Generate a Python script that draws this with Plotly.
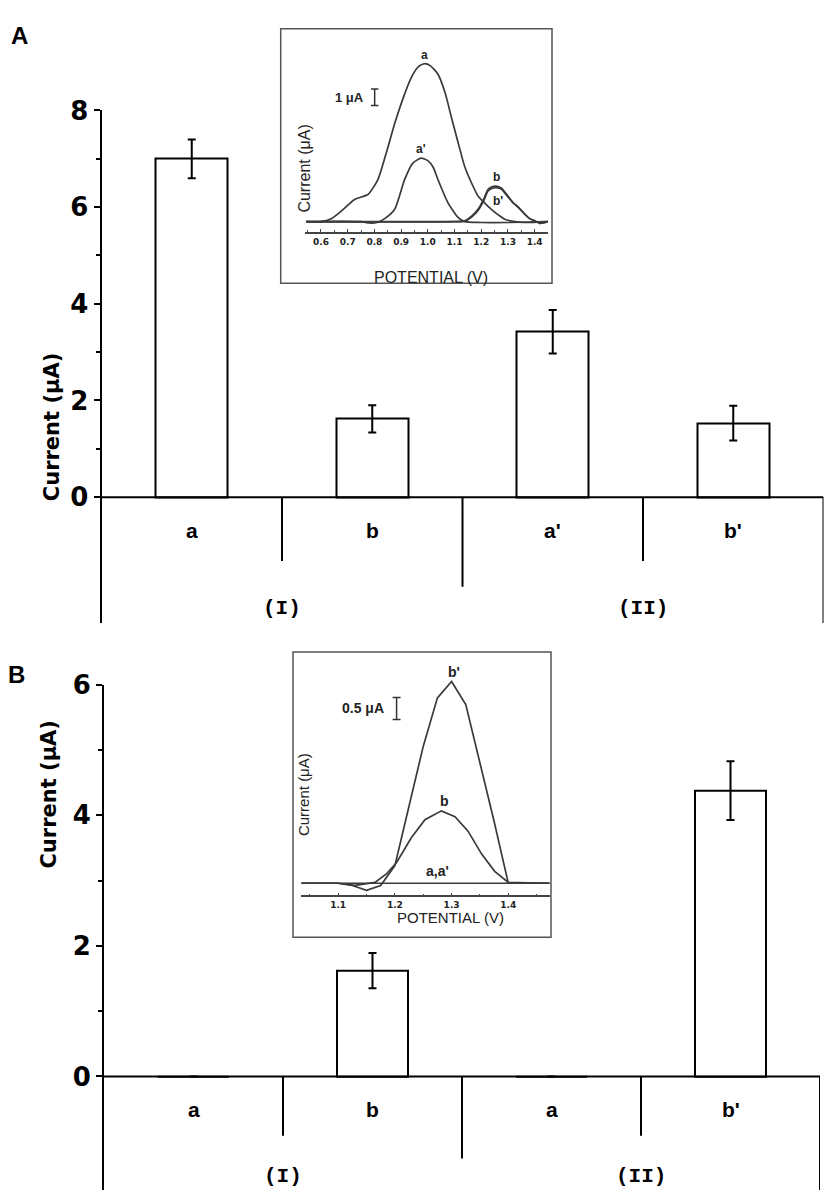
import plotly.graph_objects as go

W, H = 829, 1192

# ---------------- data ----------------
categories_A = ["a", "b", "a'", "b'"]
categories_B = ["a", "b", "a", "b'"]
groups = ["(I)", "(II)"]
current_A = [7.0, 1.62, 3.42, 1.53]
error_A = [0.40, 0.28, 0.45, 0.36]
current_B = [0, 1.62, 0, 4.38]
error_B = [0, 0.27, 0, 0.45]
yticks_A = [0, 2, 4, 6, 8]
yticks_B = [0, 2, 4, 6]

# inset A (DPV curves)
insA_a_x = [0.545, 0.60, 0.64, 0.68, 0.726, 0.776, 0.813, 0.845, 0.876, 0.91, 0.938, 0.965, 0.988, 1.01,
            1.038, 1.065, 1.088, 1.115, 1.138, 1.165, 1.188, 1.215, 1.238, 1.265, 1.288, 1.32, 1.36, 1.45]
insA_a_y = [0, 0, 0.2, 0.7, 1.35, 1.65, 2.55, 4.2, 5.95, 7.6, 8.74, 9.4, 9.58, 9.45,
            8.94, 7.8, 6.35, 4.7, 3.35, 2.3, 1.56, 1.1, 0.75, 0.4, 0.15, 0.02, -0.05, 0]
insA_a2_x = [0.545, 0.75, 0.78, 0.81, 0.84, 0.876, 0.913, 0.944, 0.975, 1.0, 1.02, 1.038, 1.075, 1.113,
             1.138, 1.2, 1.3, 1.45]
insA_a2_y = [0, 0, -0.08, -0.05, 0.2, 0.75, 2.55, 3.55, 3.85, 3.7, 3.3, 2.55, 1.16, 0.26,
             0, -0.05, -0.05, 0]
insA_b_x = [0.545, 1.10, 1.138, 1.165, 1.188, 1.21, 1.225, 1.24, 1.256, 1.275, 1.30, 1.32, 1.338, 1.36,
            1.38, 1.40, 1.42, 1.45]
insA_b_y = [0, 0, 0.05, 0.35, 0.75, 1.4, 1.95, 2.12, 2.16, 2.05, 1.56, 1.15, 0.9, 0.5,
            0.2, 0.05, -0.1, 0]
insA_b2_x = [0.545, 1.10, 1.138, 1.165, 1.188, 1.21, 1.225, 1.24, 1.256, 1.275, 1.30, 1.32, 1.338, 1.36,
             1.38, 1.40, 1.42, 1.45]
insA_b2_y = [0, 0, 0.03, 0.3, 0.68, 1.3, 1.85, 2.02, 2.06, 1.98, 1.5, 1.12, 0.88, 0.5,
             0.2, 0.05, -0.1, 0]
insA_ticks = [0.6, 0.7, 0.8, 0.9, 1.0, 1.1, 1.2, 1.3, 1.4]

# inset B
insB_b2_x = [1.035, 1.10, 1.125, 1.15, 1.175, 1.20, 1.225, 1.25, 1.275, 1.30, 1.325, 1.35, 1.375, 1.40, 1.473]
insB_b2_y = [0, 0, -0.05, -0.16, -0.05, 0.4, 1.75, 3.1, 4.2, 4.57, 4.05, 2.75, 1.4, 0, 0]
insB_b_x = [1.035, 1.10, 1.13, 1.165, 1.185, 1.203, 1.229, 1.253, 1.282, 1.306, 1.329, 1.353, 1.376, 1.40, 1.473]
insB_b_y = [0, 0, -0.05, 0.02, 0.21, 0.47, 1.03, 1.44, 1.64, 1.51, 1.18, 0.66, 0.27, 0.02, 0]
insB_a_x = [1.035, 1.473]
insB_a_y = [0, 0]
insB_ticks = [1.1, 1.2, 1.3, 1.4]


# ---------------- helpers (pixel -> paper) ----------------
def PX(x):
    return x / W


def PY(y):
    return 1 - y / H


# main panel geometry (pixels)
A_x0, A_x1 = 101.5, 823.5
A_zero, A_top, A_bot = 488.3, 96.7, 616.0
A_scale = (A_zero - A_top) / 8.0
A_ymin = -(A_bot - A_zero) / A_scale

B_x0, B_x1 = 104.0, 820.0
B_zero, B_top, B_bot = 1075.0, 678.3, 1190.0
B_scale = (B_zero - B_top) / 6.0
B_ymin = -(B_bot - B_zero) / B_scale


def yA(pix):
    return (A_zero - pix) / A_scale


def yB(pix):
    return (B_zero - pix) / B_scale


fig = go.Figure()
pos = list(range(len(categories_A)))

fig.add_trace(go.Bar(x=pos, y=current_A, width=0.4, xaxis="x", yaxis="y",
                     marker=dict(color="white", line=dict(color="black", width=2)),
                     error_y=dict(type="data", array=error_A, color="black", thickness=2, width=4),
                     showlegend=False))
fig.add_trace(go.Bar(x=pos, y=current_B, width=0.4, xaxis="x2", yaxis="y2",
                     marker=dict(color="white", line=dict(color="black", width=2)),
                     error_y=dict(type="data", array=error_B, color="black", thickness=2, width=4),
                     showlegend=False))

lc = "#3a3a3a"
for xs, ys in [(insA_a_x, insA_a_y), (insA_a2_x, insA_a2_y), (insA_b_x, insA_b_y), (insA_b2_x, insA_b2_y)]:
    fig.add_trace(go.Scatter(x=xs, y=ys, mode="lines", xaxis="x3", yaxis="y3",
                             line=dict(color=lc, width=1.7, shape="spline", smoothing=0.6),
                             showlegend=False, hoverinfo="skip"))
for xs, ys in [(insB_a_x, insB_a_y), (insB_b_x, insB_b_y), (insB_b2_x, insB_b2_y)]:
    fig.add_trace(go.Scatter(x=xs, y=ys, mode="lines", xaxis="x4", yaxis="y4",
                             line=dict(color=lc, width=1.7), showlegend=False, hoverinfo="skip"))

tickfont_main = dict(family="DejaVu Sans", size=26, color="black", weight="bold")
inset_tick_font = dict(family="DejaVu Sans", size=9, color="#222", weight="bold")

fig.update_layout(
    width=W, height=H, autosize=False,
    margin=dict(l=0, r=0, t=0, b=0),
    paper_bgcolor="white", plot_bgcolor="rgba(0,0,0,0)",
    bargap=0,
    xaxis=dict(domain=[PX(A_x0), PX(A_x1)], range=[-0.5, 3.5], visible=False, anchor="y"),
    yaxis=dict(domain=[PY(A_bot), PY(A_top)], range=[A_ymin, 8], anchor="x",
               showline=True, linewidth=2, linecolor="black", showgrid=False, zeroline=False,
               ticks="outside", ticklen=6, tickwidth=2, tickcolor="black",
               tickvals=yticks_A, tickfont=tickfont_main,
               minor=dict(tickvals=[1, 3, 5, 7], ticks="outside", ticklen=4, tickwidth=2, tickcolor="black")),
    xaxis2=dict(domain=[PX(B_x0), PX(B_x1)], range=[-0.5, 3.5], visible=False, anchor="y2"),
    yaxis2=dict(domain=[PY(B_bot), PY(B_top)], range=[B_ymin, 6], anchor="x2",
                showline=True, linewidth=2, linecolor="black", showgrid=False, zeroline=False,
                ticks="outside", ticklen=6, tickwidth=2, tickcolor="black",
                tickvals=yticks_B, tickfont=tickfont_main,
                minor=dict(tickvals=[1, 3, 5], ticks="outside", ticklen=4, tickwidth=2, tickcolor="black")),
    xaxis3=dict(domain=[PX(304.7), PX(548)], range=[0.539, 1.45], anchor="y3",
                showline=True, linewidth=1.5, linecolor="#444", showgrid=False, zeroline=False,
                ticks="inside", ticklen=3, tickcolor="#444", tickvals=insA_ticks,
                ticktext=[f"{v:.1f}" for v in insA_ticks], tickfont=inset_tick_font,
                minor=dict(tickvals=[round(v + 0.05, 2) for v in insA_ticks[:-1]] + [0.55],
                           ticks="inside", ticklen=2, tickcolor="#444")),
    yaxis3=dict(domain=[PY(220), PY(40)], range=[-0.64, 10.14], anchor="x3", visible=False),
    xaxis4=dict(domain=[PX(301.3), PX(549.7)], range=[1.035, 1.473], anchor="y4",
                showline=True, linewidth=1.5, linecolor="#444", showgrid=False, zeroline=False,
                ticks="inside", ticklen=3, tickcolor="#444", tickvals=insB_ticks,
                ticktext=[f"{v:.1f}" for v in insB_ticks], tickfont=inset_tick_font,
                minor=dict(tickvals=[1.05, 1.15, 1.25, 1.35, 1.45], ticks="inside", ticklen=2,
                           tickcolor="#444")),
    yaxis4=dict(domain=[PY(891.7), PY(652)], range=[-0.277, 5.085], anchor="x4", visible=False),
)

shapes = []
blk = dict(color="black", width=2)
# bracket axes for both panels
for xr, yr, ymin, short_y, mid_y in [("x", "y", A_ymin, yA(553), yA(579)),
                                     ("x2", "y2", B_ymin, yB(1135), yB(1158))]:
    shapes.append(dict(type="line", xref=xr, yref=yr, x0=-0.5, x1=3.5, y0=0, y1=0, line=blk))
    shapes.append(dict(type="line", xref=xr, yref=yr, x0=3.5, x1=3.5, y0=0, y1=ymin, line=blk))
    for xd in (0.5, 2.5):
        shapes.append(dict(type="line", xref=xr, yref=yr, x0=xd, x1=xd, y0=0, y1=short_y, line=blk))
    shapes.append(dict(type="line", xref=xr, yref=yr, x0=1.5, x1=1.5, y0=0, y1=mid_y, line=blk))

# inset boxes
shapes.append(dict(type="rect", xref="paper", yref="paper", x0=PX(280.7), x1=PX(552), y0=PY(271.7), y1=PY(14),
                   line=dict(color="#555", width=1.5), layer="below", fillcolor="white"))
shapes.append(dict(type="rect", xref="paper", yref="paper", x0=PX(293), x1=PX(551), y0=PY(934), y1=PY(645),
                   line=dict(color="#555", width=1.5), layer="below", fillcolor="white"))

# scale bars
sc = dict(color="#333", width=1.5)
# inset A: 1 uA
xa, ya0, ya1, cap = 0.801, 7.04, 8.04, 0.014
shapes += [dict(type="line", xref="x3", yref="y3", x0=xa, x1=xa, y0=ya0, y1=ya1, line=sc),
           dict(type="line", xref="x3", yref="y3", x0=xa - cap, x1=xa + cap, y0=ya0, y1=ya0, line=sc),
           dict(type="line", xref="x3", yref="y3", x0=xa - cap, x1=xa + cap, y0=ya1, y1=ya1, line=sc)]
# inset B: 0.5 uA
xb, yb0, yb1, capb = 1.203, 3.71, 4.21, 0.007
shapes += [dict(type="line", xref="x4", yref="y4", x0=xb, x1=xb, y0=yb0, y1=yb1, line=sc),
           dict(type="line", xref="x4", yref="y4", x0=xb - capb, x1=xb + capb, y0=yb0, y1=yb0, line=sc),
           dict(type="line", xref="x4", yref="y4", x0=xb - capb, x1=xb + capb, y0=yb1, y1=yb1, line=sc)]
fig.update_layout(shapes=shapes)

ann = []
catfont = dict(family="Liberation Sans", size=21, color="black", weight="bold")
grpfont = dict(family="Liberation Mono", size=21, color="black", weight="bold")
for i, c in enumerate(categories_A):
    ann.append(dict(x=i, y=yA(522), xref="x", yref="y", text=c, showarrow=False, font=catfont))
for i, c in enumerate(categories_B):
    ann.append(dict(x=i, y=yB(1108), xref="x2", yref="y2", text=c, showarrow=False, font=catfont))
for j, g in enumerate(groups):
    ann.append(dict(x=2 * j + 0.5, y=yA(601), xref="x", yref="y", text=g, showarrow=False, font=grpfont))
    ann.append(dict(x=2 * j + 0.5, y=yB(1176), xref="x2", yref="y2", text=g, showarrow=False, font=grpfont))

titlefont = dict(family="DejaVu Sans", size=21, color="black", weight="bold")
ann.append(dict(x=PX(38), y=PY(340), xref="paper", yref="paper", text="Current (μA)", textangle=-90,
                showarrow=False, font=titlefont))
ann.append(dict(x=PX(35), y=PY(867), xref="paper", yref="paper", text="Current (μA)", textangle=-90,
                showarrow=False, font=titlefont))
panelfont = dict(family="Liberation Sans", size=24, color="black", weight="bold")
ann.append(dict(x=PX(9), y=PY(5), xref="paper", yref="paper", text="A", showarrow=False,
                xanchor="left", yanchor="top", font=panelfont))
ann.append(dict(x=PX(6), y=PY(652), xref="paper", yref="paper", text="B", showarrow=False,
                xanchor="left", yanchor="top", font=panelfont))

# inset texts
inf = dict(family="Liberation Sans", size=16, color="#222")
lbl = dict(family="Liberation Sans", size=12, color="#222", weight="bold")
ann.append(dict(x=PX(431), y=PY(256), xref="paper", yref="paper", text="POTENTIAL (V)", showarrow=False,
                font=inf, borderpad=0))
ann.append(dict(x=PX(305), y=PY(110), xref="paper", yref="paper", text="Current (μA)", textangle=-90,
                showarrow=False, font=inf, borderpad=0))
ann.append(dict(x=PX(451), y=PY(924), xref="paper", yref="paper", text="POTENTIAL (V)", showarrow=False,
                font=dict(family="Liberation Sans", size=15, color="#222"), borderpad=0))
ann.append(dict(x=PX(303), y=PY(790), xref="paper", yref="paper", text="Current (μA)", textangle=-90,
                showarrow=False, font=dict(family="Liberation Sans", size=15, color="#222"), borderpad=0))
ann.append(dict(x=0.768, y=7.54, xref="x3", yref="y3", text="1 μA", showarrow=False, xanchor="right",
                font=dict(family="Liberation Sans", size=13, color="#222", weight="bold")))
ann.append(dict(x=1.185, y=3.96, xref="x4", yref="y4", text="0.5 μA", showarrow=False, xanchor="right",
                font=dict(family="Liberation Sans", size=14, color="#222", weight="bold")))

ann.append(dict(x=0.988, y=max(insA_a_y), xref="x3", yref="y3", text="a", showarrow=False,
                yanchor="bottom", font=lbl))
ann.append(dict(x=0.975, y=max(insA_a2_y), xref="x3", yref="y3", text="a'", showarrow=False,
                yanchor="bottom", font=lbl))
ann.append(dict(x=1.256, y=max(insA_b_y), xref="x3", yref="y3", text="b", showarrow=False,
                yanchor="bottom", font=lbl))
ann.append(dict(x=1.262, y=max(insA_b2_y), xref="x3", yref="y3", text="b'", showarrow=False,
                yanchor="top", yshift=-4, font=lbl))
lblB = dict(family="Liberation Sans", size=14, color="#222", weight="bold")
ann.append(dict(x=1.305, y=max(insB_b2_y), xref="x4", yref="y4", text="b'", showarrow=False,
                yanchor="bottom", font=lblB))
ann.append(dict(x=1.288, y=max(insB_b_y), xref="x4", yref="y4", text="b", showarrow=False,
                yanchor="bottom", font=lblB))
ann.append(dict(x=1.275, y=0, xref="x4", yref="y4", text="a,a'", showarrow=False,
                yanchor="bottom", yshift=2, font=lblB))

fig.update_layout(annotations=ann)
fig.write_html("out.html", config={"displayModeBar": False},
               post_script="document.body.style.margin='0px';")
